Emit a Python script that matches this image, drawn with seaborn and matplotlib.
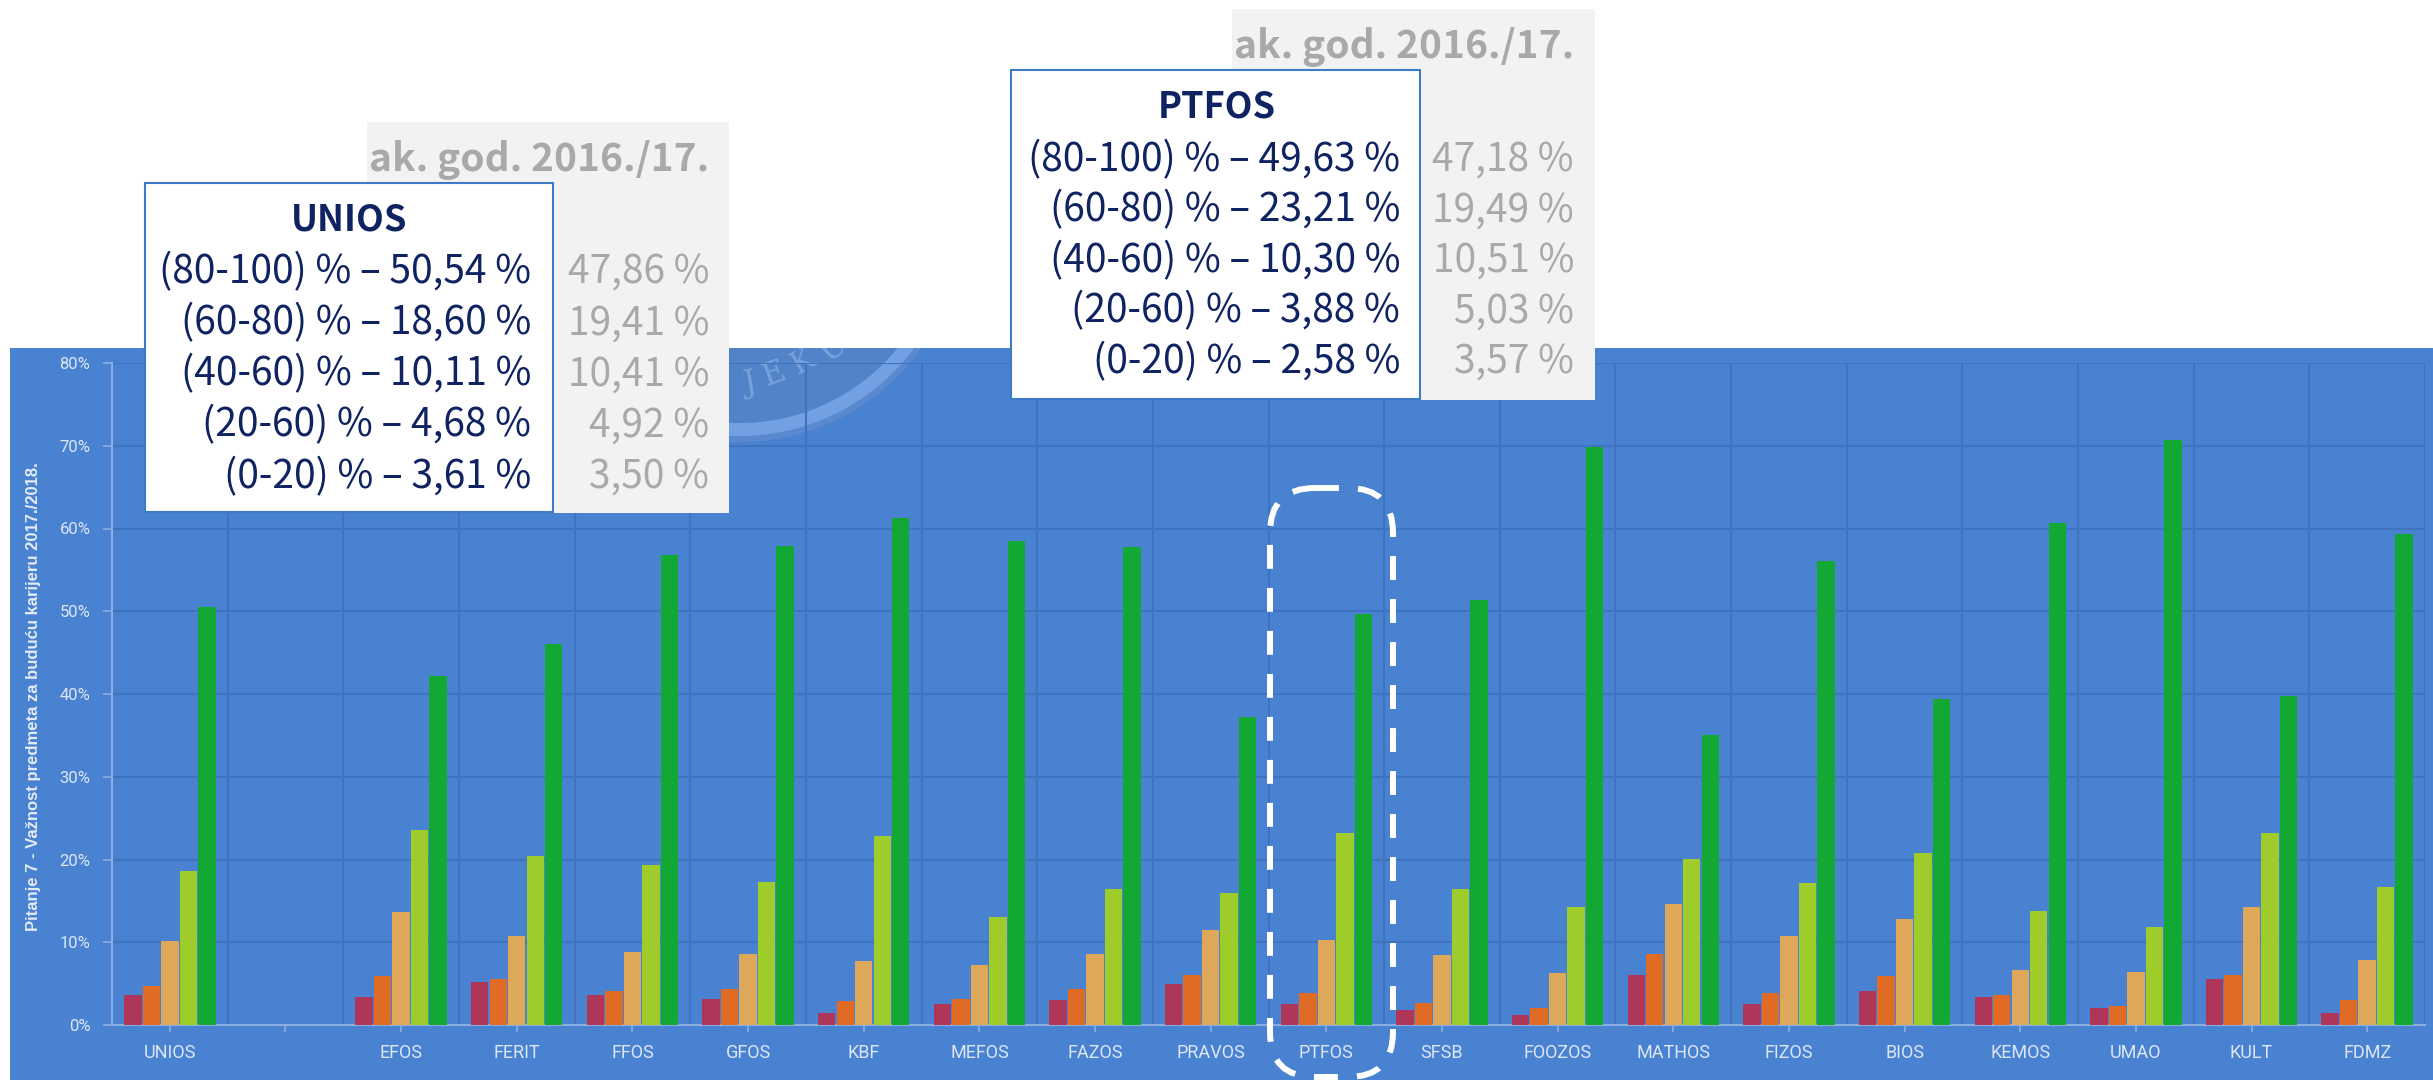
import pandas as pd
import matplotlib
matplotlib.use("Agg")
import matplotlib.pyplot as plt
import matplotlib.transforms as mtransforms
from matplotlib.patches import Rectangle, FancyBboxPatch, Circle
import seaborn as sns

# podaci (udio odgovora u %), 2017./2018.
fakulteti = ['UNIOS', '', 'EFOS', 'FERIT', 'FFOS', 'GFOS', 'KBF', 'MEFOS', 'FAZOS',
             'PRAVOS', 'PTFOS', 'SFSB', 'FOOZOS', 'MATHOS', 'FIZOS', 'BIOS', 'KEMOS',
             'UMAO', 'KULT', 'FDMZ']
rasponi = ['(0-20) %', '(20-40) %', '(40-60) %', '(60-80) %', '(80-100) %']
r_0_20 = [3.61, None, 3.4, 5.2, 3.6, 3.2, 1.45, 2.5, 3.0, 5.0, 2.58, 1.8, 1.25,
          6.1, 2.5, 4.1, 3.4, 2.0, 5.55, 1.4]
r_20_40 = [4.68, None, 5.9, 5.55, 4.1, 4.3, 2.9, 3.2, 4.3, 6.1, 3.88, 2.7, 2.0,
           8.6, 3.9, 5.9, 3.6, 2.3, 6.1, 3.0]
r_40_60 = [10.11, None, 13.7, 10.8, 8.8, 8.6, 7.7, 7.2, 8.6, 11.5, 10.30, 8.45, 6.3,
           14.6, 10.8, 12.8, 6.6, 6.4, 14.2, 7.9]
r_60_80 = [18.60, None, 23.6, 20.4, 19.3, 17.3, 22.9, 13.1, 16.4, 16.0, 23.21, 16.4, 14.2,
           20.1, 17.1, 20.8, 13.8, 11.9, 23.2, 16.7]
r_80_100 = [50.54, None, 42.2, 46.0, 56.8, 57.9, 61.3, 58.5, 57.8, 37.2, 49.63, 51.4, 69.9,
            35.0, 56.1, 39.4, 60.7, 70.7, 39.8, 59.3]
boje = ['#AE3658', '#E06B25', '#DDA85A', '#9ECC2A', '#13A834']

y_ticks = [0, 10, 20, 30, 40, 50, 60, 70, 80]
y_naslov = 'Pitanje 7 - Važnost predmeta za buduću karijeru 2017./2018.'

# okviri s usporedbom
unios_redovi = ['(80-100) % – 50,54 %', '(60-80) % – 18,60 %', '(40-60) % – 10,11 %',
                '(20-60) % – 4,68 %', '(0-20) % – 3,61 %']
unios_prosla = ['47,86 %', '19,41 %', '10,41 %', '4,92 %', '3,50 %']
ptfos_redovi = ['(80-100) % – 49,63 %', '(60-80) % – 23,21 %', '(40-60) % – 10,30 %',
                '(20-60) % – 3,88 %', '(0-20) % – 2,58 %']
ptfos_prosla = ['47,18 %', '19,49 %', '10,51 %', '5,03 %', '3,57 %']
prosla_godina = 'ak. god. 2016./17.'

W, H, DPI = 2433, 1080, 100
PLAVA = '#4A82D2'
MREZA = '#3F73BF'
SVIJETLA = '#DCE6F5'
NAVY = '#0F2262'
SIVA = '#A9A9A9'
BOX_FONT = ['Noto Sans CJK SC', 'DejaVu Sans']

plt.rcParams['font.family'] = ['Roboto', 'DejaVu Sans']

rows = []
for i, fak in enumerate(fakulteti):
    for raspon, serija in zip(rasponi, [r_0_20, r_20_40, r_40_60, r_60_80, r_80_100]):
        if serija[i] is not None:
            rows.append({'Fakultet': fak, 'Raspon': raspon, 'Udio': serija[i]})
df = pd.DataFrame(rows)

fig = plt.figure(figsize=(W / DPI, H / DPI), dpi=DPI)
fig.patch.set_facecolor('white')
# piksel koordinate, ishodište gore lijevo
px = mtransforms.Affine2D().scale(1, -1).translate(0, H).scale(1 / DPI) + fig.dpi_scale_trans

bg = Rectangle((10, 348), W - 10, H - 348, transform=px, facecolor=PLAVA,
               edgecolor='none', zorder=-5)
fig.add_artist(bg)

# vodeni žig (pečat)
for r, c in [(222, '#5A89CF'), (216, '#72A0E2'), (203, '#5283C9')]:
    circ = Circle((740, 220), r, transform=px, facecolor=c, edgecolor='none', zorder=-4)
    fig.add_artist(circ)
    circ.set_clip_path(bg)
for ch, (x, y, rot) in zip('JEKU', [(750, 384, 10), (774, 374, 20), (803, 362, 30), (834, 348, 40)]):
    t = fig.text(x, y, ch, transform=px, family='DejaVu Serif', fontsize=22, color='#79A2DC',
                 ha='center', va='center', rotation=rot, zorder=-3)
    t.set_clip_path(bg)

ax = fig.add_axes([112 / W, 1 - 1025 / H, (2425 - 112) / W, (1025 - 363) / H])
ax.set_facecolor('none')

sns.barplot(data=df, x='Fakultet', y='Udio', hue='Raspon', order=fakulteti,
            hue_order=rasponi, palette=boje, saturation=1, width=0.8, gap=0.06,
            linewidth=0, errorbar=None, legend=False, ax=ax, zorder=3)

ax.set_xlim(-0.5, len(fakulteti) - 0.5)
ax.set_ylim(0, 80)
ax.set_yticks(y_ticks)
ax.set_yticklabels([f'{t}%' for t in y_ticks])
ax.set_xticks(range(len(fakulteti)))
ax.set_xticklabels(fakulteti)
ax.set_xticks([i + 0.5 for i in range(-1, len(fakulteti))], minor=True)
ax.set_xlabel('')
ax.set_ylabel('')

ax.grid(True, axis='y', which='major', color=MREZA, linewidth=1.5, zorder=0)
ax.grid(True, axis='x', which='minor', color=MREZA, linewidth=1.5, zorder=0)
ax.grid(False, axis='x', which='major')
ax.set_axisbelow(True)

ax.tick_params(axis='y', colors='#8AAEE0', labelcolor=SVIJETLA, labelsize=12,
               length=6.5, width=1.2, pad=9)
ax.tick_params(axis='x', which='major', colors='#8AAEE0', labelcolor=SVIJETLA,
               labelsize=13, length=5, width=1.2, pad=9)
ax.tick_params(axis='x', which='minor', length=0)
for s in ['top', 'right']:
    ax.spines[s].set_visible(False)
for s in ['left', 'bottom']:
    ax.spines[s].set_color('#8AAEE0')
    ax.spines[s].set_linewidth(1.5)

fig.text(34, 697, y_naslov, transform=px, rotation=90, ha='center', va='center',
         family=['Liberation Sans', 'DejaVu Sans'], fontweight='bold', fontsize=12,
         color='#E3EBF7')


def okvir(sivi, bijeli, naslov, naslov_x, naslov_y, redovi, prosla, desno, desno_sivo,
          prvi_y, korak, god_y):
    fig.add_artist(Rectangle((sivi[0], sivi[1]), sivi[2] - sivi[0], sivi[3] - sivi[1],
                             transform=px, facecolor='#F2F2F2', edgecolor='none', zorder=5))
    fig.add_artist(Rectangle((bijeli[0], bijeli[1]), bijeli[2] - bijeli[0], bijeli[3] - bijeli[1],
                             transform=px, facecolor='white', edgecolor='#3D7CC4',
                             linewidth=1.5, zorder=6))
    fig.text(desno_sivo, god_y, prosla_godina, transform=px, ha='right', va='center',
             family=BOX_FONT, fontweight='bold', fontsize=28, color=SIVA, zorder=7)
    fig.text(naslov_x, naslov_y, naslov, transform=px, ha='center', va='center',
             family=BOX_FONT, fontweight='bold', fontsize=26, color=NAVY, zorder=7)
    for k, (red, stari) in enumerate(zip(redovi, prosla)):
        y = prvi_y + k * korak
        fig.text(desno, y, red, transform=px, ha='right', va='center',
                 family=BOX_FONT, fontsize=28, color=NAVY, zorder=7)
        fig.text(desno_sivo, y, stari, transform=px, ha='right', va='center',
                 family=BOX_FONT, fontsize=28, color=SIVA, zorder=7)


okvir((367, 122, 729, 513), (145, 183, 553, 512), 'UNIOS', 349, 220,
      unios_redovi, unios_prosla, 531, 709, 272, 51.2, 160)
okvir((1232, 9, 1595, 400), (1011, 70, 1420, 399), 'PTFOS', 1217, 107,
      ptfos_redovi, ptfos_prosla, 1400, 1574, 160, 50.5, 47)

# isprekidani okvir oko PTFOS
kapsula = FancyBboxPatch((1270, 488), 123, 589, boxstyle='round,pad=0,rounding_size=45',
                         transform=px, facecolor='none', edgecolor='white',
                         linewidth=4.3, linestyle=(0, (4, 3.2)), zorder=8)
fig.add_artist(kapsula)

fig.savefig('out.png', dpi=DPI)
